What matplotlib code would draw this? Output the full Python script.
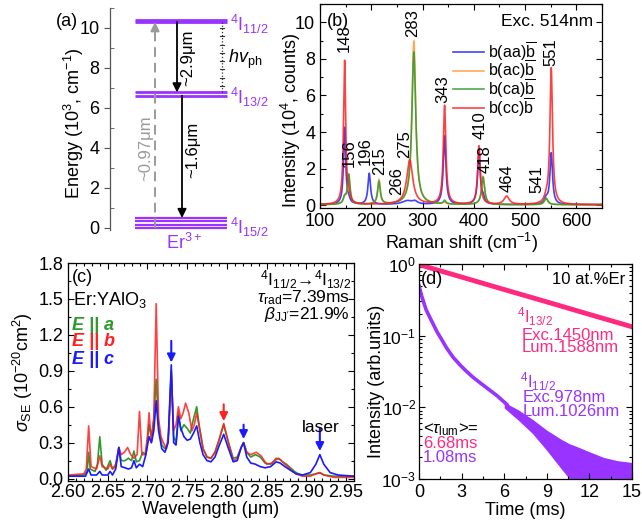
import numpy as np
import matplotlib
matplotlib.use('Agg')
import matplotlib.pyplot as plt
from matplotlib.ticker import MultipleLocator, LogLocator, NullFormatter, FormatStrFormatter

plt.rcParams['font.family'] = ['Liberation Sans', 'DejaVu Sans']
plt.rcParams['mathtext.fontset'] = 'custom'
plt.rcParams['mathtext.rm'] = 'Liberation Sans'
plt.rcParams['mathtext.it'] = 'Liberation Sans:italic'
plt.rcParams['mathtext.bf'] = 'Liberation Sans:bold'
plt.rcParams['font.size'] = 13
plt.rcParams['axes.linewidth'] = 0.9

W, H = 642, 525
fig = plt.figure(figsize=(W / 100, H / 100), dpi=100)


def box(l, t, r, b):
    return [l / W, 1 - b / H, (r - l) / W, (b - t) / H]


def ftext(px, py, s, **kw):
    fig.text(px / W, 1 - py / H, s, **kw)


PURPLE = '#9933ff'
PINK = '#ff2a7f'
GREY = '#9a9a9a'

# ---------------- data ----------------
# (a) energy levels (10^3 cm^-1)
lev_11 = [10.3, 10.4]
lev_13 = [6.62, 6.78]
lev_15 = [0.0, 0.17, 0.33, 0.5]
lev_labels = [r'$^4$I$_{11/2}$', r'$^4$I$_{13/2}$', r'$^4$I$_{15/2}$']

# (b) Raman peaks: (position cm-1, height 1e4 counts, HWHM)
raman_labels = [148, 156, 196, 215, 266, 275, 283, 343, 410, 418, 464, 541, 551]
raman_label_y = [8.35, 2.1, 2.2, 1.65, 0.55, 2.6, 9.2, 5.6, 3.6, 1.75, 0.7, 0.65, 7.6]
raman_label_x = [147, 157, 189, 216, 250, 265, 281, 340, 413, 423, 464, 523, 551]
peaks_aa = [(148, 4.2, 2.5), (156, 0.2, 3), (196, 1.7, 3), (270, 0.2, 12), (285, 0.15, 6),
            (343, 3.75, 3), (410, 2.9, 3), (418, 0.3, 3), (541, 0.3, 4), (551, 2.8, 3)]
peaks_ac = [(148, 0.3, 3), (156, 1.65, 3), (215, 1.35, 3), (283, 8.95, 4.5), (343, 0.1, 3),
            (418, 1.55, 3.5), (541, 0.35, 4)]
peaks_ca = [(148, 0.35, 3), (156, 1.6, 3), (215, 1.25, 3), (283, 8.35, 4.5), (343, 0.2, 3),
            (418, 1.5, 3.5), (541, 0.35, 4)]
peaks_cc = [(148, 7.85, 2.5), (156, 0.3, 3), (275, 2.45, 7), (343, 5.4, 3), (410, 3.2, 3),
            (464, 0.45, 6), (541, 0.25, 4), (551, 7.45, 3)]
raman_series = [('b(aa)', peaks_aa, '#2020ff'), ('b(ac)', peaks_ac, '#ff9a3a'),
                ('b(ca)', peaks_ca, '#2e9a2e'), ('b(cc)', peaks_cc, '#ff2020')]

# (c) stimulated emission cross sections (10^-20 cm^2) vs wavelength (um)
wl_a = [2.600, 2.620, 2.624, 2.626, 2.628, 2.634, 2.637, 2.640, 2.643, 2.648, 2.651, 2.653, 2.656,
        2.660, 2.664, 2.667, 2.672, 2.676, 2.680, 2.683, 2.686, 2.690, 2.694, 2.698, 2.702, 2.705,
        2.708, 2.711, 2.714, 2.718, 2.722, 2.726, 2.730, 2.733, 2.736, 2.739, 2.742, 2.746, 2.750,
        2.754, 2.758, 2.762, 2.765, 2.770, 2.775, 2.780, 2.785, 2.790, 2.796, 2.802, 2.808, 2.813,
        2.818, 2.821, 2.825, 2.830, 2.836, 2.842, 2.848, 2.855, 2.860, 2.865, 2.870, 2.875, 2.880,
        2.885, 2.890, 2.895, 2.905, 2.912, 2.917, 2.922, 2.935, 2.960]
sig_a = [0.02, 0.03, 0.06, 0.22, 0.08, 0.06, 0.12, 0.35, 0.12, 0.07, 0.12, 0.15, 0.08,
         0.10, 0.26, 0.15, 0.15, 0.17, 0.15, 0.23, 0.14, 0.15, 0.22, 0.20, 0.45, 0.35,
         0.50, 0.83, 0.45, 0.28, 0.25, 0.30, 0.90, 0.35, 0.30, 0.55, 0.40, 0.45, 0.42,
         0.38, 0.50, 0.60, 0.45, 0.25, 0.18, 0.17, 0.22, 0.32, 0.45, 0.30, 0.17, 0.18,
         0.26, 0.30, 0.22, 0.18, 0.20, 0.18, 0.13, 0.12, 0.15, 0.17, 0.14, 0.12, 0.09,
         0.06, 0.04, 0.03, 0.03, 0.04, 0.05, 0.03, 0.02, 0.02]
wl_b = [2.600, 2.620, 2.623, 2.626, 2.629, 2.636, 2.640, 2.643, 2.650, 2.653, 2.656, 2.660, 2.664,
        2.667, 2.671, 2.675, 2.679, 2.683, 2.687, 2.690, 2.693, 2.697, 2.700, 2.702, 2.705, 2.708,
        2.711, 2.714, 2.717, 2.720, 2.724, 2.727, 2.730, 2.733, 2.736, 2.739, 2.742, 2.745, 2.748,
        2.752, 2.756, 2.759, 2.762, 2.766, 2.770, 2.775, 2.780, 2.785, 2.790, 2.796, 2.802, 2.808,
        2.813, 2.818, 2.821, 2.825, 2.830, 2.837, 2.843, 2.850, 2.857, 2.862, 2.867, 2.873, 2.880,
        2.887, 2.895, 2.905, 2.912, 2.917, 2.922, 2.935, 2.960]
sig_b = [0.03, 0.04, 0.08, 0.44, 0.10, 0.08, 0.19, 0.10, 0.08, 0.12, 0.08, 0.12, 0.26,
         0.20, 0.22, 0.26, 0.20, 0.17, 0.20, 0.56, 0.20, 0.20, 0.35, 0.55, 0.30, 0.50,
         1.46, 0.50, 0.35, 0.30, 0.25, 0.40, 0.88, 0.40, 0.45, 0.60, 0.50, 0.55, 0.63,
         0.55, 0.40, 0.45, 0.55, 0.40, 0.25, 0.18, 0.17, 0.22, 0.32, 0.46, 0.30, 0.15,
         0.17, 0.26, 0.30, 0.22, 0.20, 0.22, 0.19, 0.12, 0.13, 0.17, 0.16, 0.12, 0.08,
         0.04, 0.02, 0.02, 0.04, 0.05, 0.03, 0.01, 0.01]
wl_c = [2.600, 2.622, 2.626, 2.629, 2.636, 2.640, 2.643, 2.650, 2.653, 2.656, 2.660, 2.664, 2.667,
        2.672, 2.676, 2.680, 2.683, 2.686, 2.690, 2.694, 2.698, 2.702, 2.705, 2.708, 2.711, 2.714,
        2.718, 2.722, 2.726, 2.730, 2.733, 2.736, 2.739, 2.742, 2.746, 2.750, 2.754, 2.758, 2.762,
        2.766, 2.770, 2.775, 2.780, 2.785, 2.790, 2.796, 2.802, 2.808, 2.813, 2.818, 2.821, 2.825,
        2.830, 2.836, 2.842, 2.848, 2.855, 2.862, 2.867, 2.873, 2.880, 2.887, 2.895, 2.905, 2.912,
        2.917, 2.922, 2.930, 2.940, 2.960]
sig_c = [0.02, 0.02, 0.08, 0.03, 0.03, 0.06, 0.03, 0.03, 0.06, 0.03, 0.08, 0.26, 0.10,
         0.09, 0.08, 0.09, 0.15, 0.09, 0.12, 0.10, 0.20, 0.35, 0.30, 0.40, 0.65, 0.40,
         0.25, 0.22, 0.30, 0.95, 0.30, 0.28, 0.52, 0.42, 0.35, 0.32, 0.33, 0.38, 0.44,
         0.30, 0.20, 0.15, 0.14, 0.18, 0.27, 0.37, 0.25, 0.14, 0.15, 0.26, 0.30, 0.18,
         0.13, 0.12, 0.10, 0.09, 0.10, 0.14, 0.13, 0.10, 0.07, 0.04, 0.03, 0.05, 0.12,
         0.20, 0.12, 0.05, 0.03, 0.02]
arrows_c = [(2.730, 1.15, 0.97, '#1a1aff'), (2.796, 0.62, 0.48, '#ff2020'),
            (2.821, 0.45, 0.33, '#1a1aff'), (2.917, 0.42, 0.23, '#1a1aff')]

# (d) luminescence decay
t_13 = [0, 3, 6, 9, 12, 15]
I_13 = [0.98, 0.657, 0.44, 0.296, 0.198, 0.133]
t_11 = [0, 0.15, 0.31, 0.5, 0.78, 1.0, 1.25, 1.6, 1.95, 2.4, 2.89, 3.4, 3.83, 4.3, 4.77, 5.5, 6.18]
I_11 = [0.5, 0.38, 0.30, 0.23, 0.177, 0.145, 0.115, 0.088, 0.067, 0.05, 0.039, 0.031, 0.026,
        0.022, 0.0187, 0.0145, 0.011]
t_noise = [6, 7, 8, 9, 10, 10.6, 11, 12, 13, 14, 15]
I_noise_hi = [0.0118, 0.0092, 0.0068, 0.0048, 0.0036, 0.0031, 0.0029, 0.0024, 0.002, 0.0018, 0.0017]
I_noise_lo = [0.0098, 0.0066, 0.0043, 0.0025, 0.0014, 0.001, 0.001, 0.001, 0.001, 0.001, 0.001]


def style_box(ax):
    ax.tick_params(which='both', direction='in', top=True, right=True, labelsize=13)
    ax.tick_params(which='major', length=4.5, width=0.8)
    ax.tick_params(which='minor', length=2.5, width=0.8)


# ---------------- (a) ----------------
axA = fig.add_axes(box(110, 8, 300, 230))
axA.set_xlim(0, 190)
axA.set_ylim(-0.1, 11)
for s in ['top', 'right', 'bottom']:
    axA.spines[s].set_visible(False)
axA.spines['left'].set_color('#555555')
axA.set_xticks([])
axA.yaxis.set_major_locator(MultipleLocator(2))
axA.yaxis.set_minor_locator(MultipleLocator(1))
axA.tick_params(axis='y', which='major', direction='out', length=4, labelsize=13, color='#555555')
axA.tick_params(axis='y', which='minor', direction='in', length=3, color='#555555')
axA.set_ylabel(r'Energy (10$^3$, cm$^{-1}$)', fontsize=13)
axA.yaxis.set_label_coords(-0.125, 0.48)
for e in lev_11:
    axA.plot([25, 117], [e, e], color=PURPLE, lw=2.0, solid_capstyle='butt')
for e in lev_13:
    axA.plot([25, 117], [e, e], color=PURPLE, lw=2.0, solid_capstyle='butt')
for e in lev_15:
    axA.plot([25, 117], [e, e], color=PURPLE, lw=1.6, solid_capstyle='butt')
# pump (dashed grey)
axA.plot([45, 45], [0.0, 9.9], color=GREY, lw=1.4, ls=(0, (5, 3)))
axA.annotate('', xy=(45, 10.3), xytext=(45, 9.7),
             arrowprops=dict(arrowstyle='-|>', color=GREY, lw=1.4, mutation_scale=13, shrinkA=0, shrinkB=0))
axA.text(36, 4.0, '~0.97\u03bcm', color=GREY, rotation=90, ha='center', va='center', fontsize=12)
# emissions
axA.annotate('', xy=(67, lev_13[-1]), xytext=(67, lev_11[0]),
             arrowprops=dict(arrowstyle='-|>', color='black', lw=1.3, mutation_scale=13, shrinkA=0, shrinkB=0))
axA.text(78, 8.5, '~2.9\u03bcm', rotation=90, ha='center', va='center', fontsize=12)
axA.annotate('', xy=(72, lev_15[-1]), xytext=(72, lev_13[0]),
             arrowprops=dict(arrowstyle='-|>', color='black', lw=1.3, mutation_scale=13, shrinkA=0, shrinkB=0))
axA.text(83, 3.9, '~1.6\u03bcm', rotation=90, ha='center', va='center', fontsize=12)
# phonon ladder
axA.plot([112, 112], [lev_13[-1], lev_11[0]], color='#333333', lw=0.9, ls=(0, (1, 1.5)))
for yy in np.linspace(7.1, 10.0, 8):
    axA.plot([110, 114], [yy, yy], color='#333333', lw=0.8)
axA.text(118, 8.45, r'$hv_{\mathrm{ph}}$', fontsize=13, ha='left', va='center')
axA.text(120, 10.2, lev_labels[0], color=PURPLE, fontsize=13, ha='left', va='center')
axA.text(120, 6.55, lev_labels[1], color=PURPLE, fontsize=13, ha='left', va='center')
axA.text(120, 0.05, lev_labels[2], color=PURPLE, fontsize=13, ha='left', va='center', clip_on=False)
axA.text(74, -0.75, r'Er$^{3+}$', color=PURPLE, fontsize=13, ha='center', va='center', clip_on=False)
ftext(67, 22, '(a)', ha='center', va='center', fontsize=13)

# ---------------- (b) ----------------
axB = fig.add_axes(box(320, 4, 602, 208))
xr = np.linspace(100, 650, 2751)
for name, pk, col in raman_series:
    y = np.full_like(xr, 0.03)
    for (x0, h, g) in pk:
        y = y + h * g ** 2 / ((xr - x0) ** 2 + g ** 2)
    axB.plot(xr, y, color=col, lw=1.2, alpha=0.85, label=name + r'$\overline{\mathrm{b}}$')
axB.set_xlim(100, 650)
axB.set_ylim(-0.15, 11)
axB.xaxis.set_major_locator(MultipleLocator(100))
axB.xaxis.set_minor_locator(MultipleLocator(50))
axB.yaxis.set_major_locator(MultipleLocator(2))
axB.yaxis.set_minor_locator(MultipleLocator(1))
style_box(axB)
axB.set_xlabel(r'Raman shift (cm$^{-1}$)', fontsize=13, labelpad=1)
axB.set_ylabel(r'Intensity (10$^4$, counts)', fontsize=13)
axB.yaxis.set_label_coords(-0.060, 0.43)
for lx, ly, lab in zip(raman_label_x, raman_label_y, raman_labels):
    axB.text(lx, ly, str(lab), rotation=90, ha='center', va='bottom', fontsize=12)
axB.legend(loc='upper left', bbox_to_anchor=(0.47, 0.825), frameon=False, fontsize=11.5,
           handlelength=2.0, handletextpad=0.2, labelspacing=-0.27, borderpad=0, borderaxespad=0)
ftext(327, 22, '(b)', ha='left', va='center', fontsize=13)
ftext(593, 22, 'Exc. 514nm', ha='right', va='center', fontsize=12.5)

# ---------------- (c) ----------------
axC = fig.add_axes(box(68, 263, 354, 481))
axC.plot(wl_a, sig_a, color='#2e9a2e', lw=1.2)
axC.plot(wl_b, sig_b, color='#ff2020', lw=1.2, alpha=0.85)
axC.plot(wl_c, sig_c, color='#1a1aff', lw=1.2)
for (x0, y0, y1, c) in arrows_c:
    axC.annotate('', xy=(x0, y1), xytext=(x0, y0),
                 arrowprops=dict(arrowstyle='-|>', color=c, lw=1.5, mutation_scale=12, shrinkA=0, shrinkB=0))
axC.set_xlim(2.60, 2.96)
axC.set_ylim(-0.02, 1.8)
axC.xaxis.set_major_locator(MultipleLocator(0.05))
axC.xaxis.set_minor_locator(MultipleLocator(0.01))
axC.yaxis.set_major_locator(MultipleLocator(0.3))
axC.yaxis.set_minor_locator(MultipleLocator(0.15))
axC.xaxis.set_major_formatter(FormatStrFormatter('%.2f'))
axC.yaxis.set_major_formatter(FormatStrFormatter('%.1f'))
style_box(axC)
axC.tick_params(axis='x', pad=2)
axC.set_xlabel('Wavelength (\u03bcm)', fontsize=13, labelpad=0)
axC.set_ylabel(r'$\sigma_{\mathrm{SE}}$ (10$^{-20}$cm$^2$)', fontsize=13, labelpad=2)
ftext(72, 277, '(c)', ha='left', va='center', fontsize=13)
ftext(73, 300, r'Er:YAlO$_3$', ha='left', va='center', fontsize=13)
ftext(72, 325, 'E || a', ha='left', va='center', fontsize=13, color='#2e9a2e', weight='bold', style='italic')
ftext(72, 342, 'E || b', ha='left', va='center', fontsize=13, color='#ff2020', weight='bold', style='italic')
ftext(72, 360, 'E || c', ha='left', va='center', fontsize=13, color='#1a1aff', weight='bold', style='italic')
ftext(351, 280, '$^4$I$_{11/2}$\u2192$^4$I$_{13/2}$', ha='right', va='center', fontsize=12.5)
ftext(350, 298, r'$\tau_{\mathrm{rad}}$=7.39ms', ha='right', va='center', fontsize=12.5)
ftext(350, 315, r'$\beta_{\mathrm{JJ^{\prime}}}$=21.9%', ha='right', va='center', fontsize=12.5)
ftext(321, 428, 'laser', ha='center', va='center', fontsize=12.5)

# ---------------- (d) ----------------
axD = fig.add_axes(box(419, 264, 632, 479))
axD.fill_between(t_noise, I_noise_lo, I_noise_hi, color=PURPLE, lw=0)
axD.plot(t_11, I_11, color=PURPLE, lw=2.6)
axD.plot(t_13, I_13, color=PINK, lw=3.5)
axD.set_yscale('log')
axD.set_xlim(0, 15)
axD.set_ylim(1e-3, 1)
axD.xaxis.set_major_locator(MultipleLocator(3))
axD.xaxis.set_minor_locator(MultipleLocator(1.5))
axD.yaxis.set_major_locator(LogLocator(base=10, numticks=10))
axD.yaxis.set_minor_locator(LogLocator(base=10, subs=np.arange(2, 10), numticks=10))
axD.yaxis.set_minor_formatter(NullFormatter())
style_box(axD)
axD.tick_params(axis='y', labelsize=12.5, pad=2)
axD.set_xlabel('Time (ms)', fontsize=13, labelpad=1)
axD.set_ylabel('Intensity (arb.units)', fontsize=13)
axD.yaxis.set_label_coords(-0.158, 0.456)
ftext(421, 280, '(d)', ha='left', va='center', fontsize=13)
ftext(625, 280, '10 at.%Er', ha='right', va='center', fontsize=12)
ftext(517, 317, r'$^4$I$_{13/2}$', ha='left', va='center', fontsize=12, color=PINK)
ftext(522, 335, 'Exc.1450nm', ha='left', va='center', fontsize=12, color=PINK)
ftext(522, 348, 'Lum.1588nm', ha='left', va='center', fontsize=12, color=PINK)
ftext(520, 382, r'$^4$I$_{11/2}$', ha='left', va='center', fontsize=12, color=PURPLE)
ftext(523, 398, 'Exc.978nm', ha='left', va='center', fontsize=12, color=PURPLE)
ftext(523, 411, 'Lum.1026nm', ha='left', va='center', fontsize=12, color=PURPLE)
ftext(423, 430, r'<$\tau_{\mathrm{lum}}$>=', ha='left', va='center', fontsize=12)
ftext(423, 444, '6.68ms', ha='left', va='center', fontsize=12, color=PINK)
ftext(423, 457, '1.08ms', ha='left', va='center', fontsize=12, color=PURPLE)

fig.savefig('out.png', dpi=100)
